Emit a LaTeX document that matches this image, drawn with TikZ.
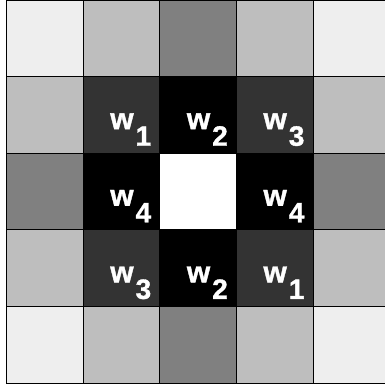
\documentclass[tikz,border=0pt]{standalone}
\usepackage{fontspec}
\setmainfont{Liberation Sans}
\newfontfamily\heavyfont{Liberation Sans Bold}[FakeBold=1.2]
\definecolor{gA}{HTML}{EEEEEE}
\definecolor{gB}{HTML}{BEBEBE}
\definecolor{gC}{HTML}{808080}
\definecolor{gD}{HTML}{333333}
\definecolor{gE}{HTML}{000000}
\definecolor{gF}{HTML}{FFFFFF}
\begin{document}
\begin{tikzpicture}[x=1pt,y=-1pt,
  cell/.style={draw=black, line width=0.8pt, minimum size=76.6pt, inner sep=0pt, outer sep=0pt},
  lbl/.style={text=white, inner sep=0pt, anchor=base west, font=\heavyfont}]
\useasboundingbox (0,0) rectangle (384,385);
\foreach \r/\c/\col in {0/0/gA,0/1/gB,0/2/gC,0/3/gB,0/4/gA,
                        1/0/gB,1/1/gD,1/2/gE,1/3/gD,1/4/gB,
                        2/0/gC,2/1/gE,2/2/gF,2/3/gE,2/4/gC,
                        3/0/gB,3/1/gD,3/2/gE,3/3/gD,3/4/gB,
                        4/0/gA,4/1/gB,4/2/gC,4/3/gB,4/4/gA}{
  \pgfmathsetmacro{\cx}{6.5+76.6*(\c+0.5)}
  \pgfmathsetmacro{\cy}{76.6*(\r+0.5)}
  \node[cell, fill=\col] (c\r\c) at (\cx,\cy) {};
}
\foreach \r/\c/\d in {1/1/1,1/2/2,1/3/3,2/1/4,2/3/4,3/1/3,3/2/2,3/3/1}{
  \pgfmathsetmacro{\lx}{6.5+76.6*\c+27}
  \pgfmathsetmacro{\ly}{76.6*(\r+1)-24}
  \node[lbl] (l\r\c) at (\lx,\ly) {\fontsize{30}{30}\selectfont w\kern2pt\raisebox{-16.5pt}{\fontsize{28}{28}\selectfont \d}};
}
\end{tikzpicture}
\end{document}
